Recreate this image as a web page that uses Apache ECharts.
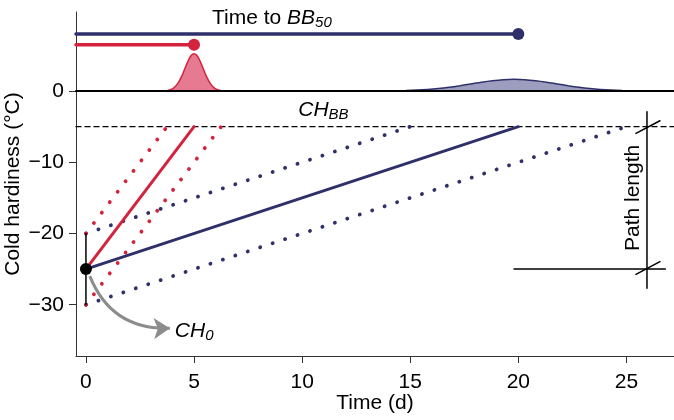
<!DOCTYPE html>
<html><head><meta charset="utf-8">
<script src="https://cdn.jsdelivr.net/npm/echarts@6/dist/echarts.min.js"></script>
<style>html,body{margin:0;padding:0;background:#fff}#c{width:674px;height:420px}</style>
</head><body><div id="c"></div>
<script>
// ---- data ----
const xTicks = [0, 5, 10, 15, 20, 25];
const yTicks = [-30, -20, -10, 0];
const xRange = [-0.46, 27.2];
const yRange = [-37.2, 11.1];

const redDensity = [[3.25,0],[3.5,0.01],[3.75,0.06],[3.875,0.145],[4.0,0.31],[4.125,0.60],[4.25,1.07],[4.375,1.74],[4.5,2.58],[4.625,3.52],[4.75,4.40],[4.875,5.02],[5.0,5.25],[5.125,5.02],[5.25,4.40],[5.375,3.52],[5.5,2.58],[5.625,1.74],[5.75,1.07],[5.875,0.60],[6.0,0.31],[6.125,0.145],[6.25,0.06],[6.5,0.01],[6.75,0]];
const blueDensity = [[12.8,0],[13.3,0.008],[13.8,0.018],[14.3,0.038],[14.8,0.072],[15.3,0.131],[15.8,0.223],[16.3,0.357],[16.8,0.536],[17.3,0.755],[17.8,1.0],[18.3,1.25],[18.8,1.456],[19.3,1.60],[19.8,1.65],[20.3,1.60],[20.8,1.456],[21.3,1.25],[21.8,1.0],[22.3,0.755],[22.8,0.536],[23.3,0.357],[23.8,0.223],[24.3,0.131],[24.8,0.072],[25.3,0.038],[25.8,0.018],[26.3,0.008],[26.8,0.004],[27.2,0.002]];

const baseline = [[-0.46,0],[27.2,0]];
const redTime = [[-0.46,6.5],[5,6.5]];
const blueTime = [[-0.46,8],[20,8]];
const redTimePoint = [[5,6.5]];
const blueTimePoint = [[20,8]];

const chbbLine = [[-0.46,-5],[27.2,-5]];
const redMain = [[0,-25],[5,-5]];
const redUpper = [[0,-20],[3.75,-5]];
const redLower = [[0,-30],[6.25,-5]];
const blueMain = [[0,-25],[20,-5]];
const blueUpper = [[0,-20],[15,-5]];
const blueLower = [[0,-30],[25,-5]];
const errorBar = [[0,-20],[0,-30]];
const ch0Point = [[0,-25]];
const arrowPath = [[0.18,-25.98],[3.88,-33.29]];

const pathVertical = [[25.95,-2.9],[25.95,-27.7]];
const pathHorizontal = [[19.8,-25],[26.8,-25]];
const slashTop = [[25.44,-5.95],[26.55,-4.17]];
const slashBottom = [[25.44,-25.75],[26.55,-23.95]];

const labelTime = [[5.83,10.25]];
const labelCHBB = [[9.82,-2.67]];
const labelCH0 = [[4.11,-33.7]];
const labelPath = [[25.33,-15.0]];

// ---- styles ----
const FONT = 'Liberation Sans, Arial, Helvetica, sans-serif';
const FS = 21;
const RED = '#D3233D', RED_FILL = '#E67A90';
const BLUE = '#2F3069', BLUE_FILL = '#9D9EBF';
const rich = {
  n: {fontFamily: FONT, fontSize: FS, color: '#000'},
  i: {fontFamily: FONT, fontSize: FS, fontStyle: 'italic', color: '#000'},
  s: {fontFamily: FONT, fontSize: 15, fontStyle: 'italic', color: '#000', padding: [10,0,0,0]}
};

function seg(data, color, width, type, z) {
  return {type: 'line', data, symbol: 'none', silent: true, z: z || 2,
    lineStyle: {color, width, type: type || 'solid', cap: 'round'}};
}
function dotted(data, color) {
  return seg(data, color, 3.8, [0.1, 13], 2);
}
function dots(data, color, size) {
  return {type: 'scatter', data, symbol: 'circle', symbolSize: size, silent: true, z: 5,
    itemStyle: {color, opacity: 1}};
}
function textLabel(data, formatter, extra) {
  return {type: 'scatter', data, symbolSize: 0, silent: true, z: 6,
    itemStyle: {color: '#000', opacity: 1},
    label: Object.assign({show: true, position: 'right', distance: 0, color: '#000', opacity: 1, formatter, rich}, extra || {})};
}

const chart = echarts.init(document.getElementById('c'), null, {renderer: 'canvas'});
chart.setOption({
  animation: false,
  backgroundColor: '#fff',
  grid: {left: 76, right: 0, top: 12, bottom: 64, containLabel: false, outerBoundsMode: 'none'},
  xAxis: {
    type: 'value', min: xRange[0], max: xRange[1],
    name: 'Time (d)', nameLocation: 'middle', nameGap: 37, nameMoveOverlap: false,
    nameTextStyle: {fontFamily: FONT, fontSize: FS, color: '#000'},
    axisLine: {show: true, onZero: false, lineStyle: {color: '#333', width: 1}},
    axisTick: {show: true, length: 7, customValues: xTicks, lineStyle: {color: '#333'}},
    axisLabel: {customValues: xTicks, margin: 16, fontFamily: FONT, fontSize: FS, color: '#000'},
    splitLine: {show: false}
  },
  yAxis: {
    type: 'value', min: yRange[0], max: yRange[1],
    name: 'Cold hardiness (\u00B0C)', nameLocation: 'middle', nameGap: 52, nameMoveOverlap: false,
    nameTextStyle: {fontFamily: FONT, fontSize: FS, color: '#000'},
    axisLine: {show: true, onZero: false, lineStyle: {color: '#333', width: 1}},
    axisTick: {show: true, length: 7, customValues: yTicks, lineStyle: {color: '#333'}},
    axisLabel: {customValues: yTicks, margin: 12, fontFamily: FONT, fontSize: FS, color: '#000',
      formatter: v => (v < 0 ? '\u2212' + Math.abs(v) : String(v))},
    splitLine: {show: false}
  },
  series: [
    {type: 'line', data: redDensity, symbol: 'none', smooth: 0.3, silent: true, z: 1,
      lineStyle: {color: RED, width: 1.5}, areaStyle: {color: RED_FILL, opacity: 1, origin: 0}},
    {type: 'line', data: blueDensity, symbol: 'none', smooth: 0.3, silent: true, z: 1,
      lineStyle: {color: BLUE, width: 1.5}, areaStyle: {color: BLUE_FILL, opacity: 1, origin: 0}},
    seg(baseline, '#000', 2, 'solid', 3),
    seg(blueTime, BLUE, 3.5, 'solid', 3),
    seg(redTime, RED, 3.5, 'solid', 3),
    dots(blueTimePoint, BLUE, 12),
    dots(redTimePoint, RED, 12),
    seg(chbbLine, '#000', 1.3, [5, 4], 2),
    dotted(blueUpper, BLUE),
    dotted(blueLower, BLUE),
    dotted(redUpper, RED),
    dotted(redLower, RED),
    seg(blueMain, BLUE, 3, 'solid', 3),
    seg(redMain, RED, 3, 'solid', 3),
    seg(errorBar, '#000', 1.5, 'solid', 4),
    dots(ch0Point, '#000', 12),
    {type: 'lines', coordinateSystem: 'cartesian2d', silent: true, z: 4,
      symbol: ['none', 'arrow'], symbolSize: 16,
      lineStyle: {color: '#8c8c8c', width: 3, curveness: -0.35, opacity: 1},
      data: [{coords: arrowPath}]},
    seg(pathVertical, '#000', 1.5, 'solid', 3),
    seg(pathHorizontal, '#000', 1.5, 'solid', 3),
    seg(slashTop, '#000', 1.5, 'solid', 3),
    seg(slashBottom, '#000', 1.5, 'solid', 3),
    textLabel(labelTime, '{n|Time to }{i|BB}{s|50}'),
    textLabel(labelCHBB, '{i|CH}{s|BB}'),
    textLabel(labelCH0, '{i|CH}{s|0}'),
    textLabel(labelPath, '{n|Path length}', {position: 'inside', rotate: 90, align: 'center', verticalAlign: 'middle'})
  ]
});
</script>
</body></html>
